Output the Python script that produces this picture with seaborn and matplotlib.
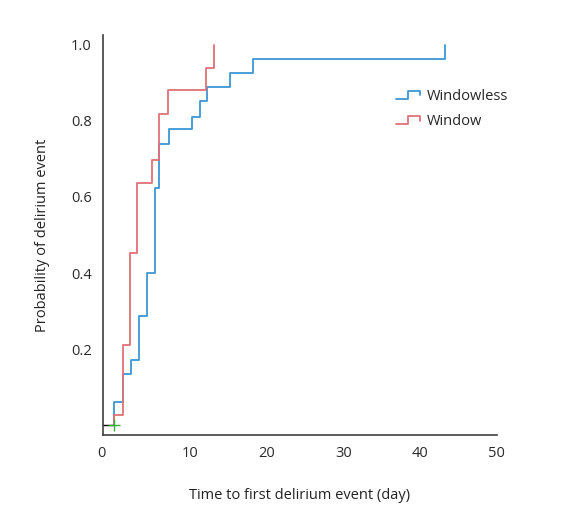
import numpy as np
import pandas as pd
import matplotlib
matplotlib.use("Agg")
import matplotlib.pyplot as plt
import seaborn as sns
from matplotlib.legend_handler import HandlerBase
from matplotlib.lines import Line2D
from matplotlib.transforms import ScaledTranslation

# Datos (curvas de incidencia acumulada)
windowless_days = [0.1, 1.2, 2.25, 3.4, 4.4, 5.4, 6.0, 7.2, 10.2, 11.25, 12.2, 15.2, 18.2, 43.3]
windowless_prob = [0.060, 0.134, 0.171, 0.287, 0.399, 0.623, 0.739, 0.778, 0.811, 0.851,
                   0.889, 0.925, 0.962, 1.0]
window_days = [0.1, 1.2, 2.15, 3.1, 5.0, 6.0, 7.1, 12.1, 13.1]
window_prob = [0.026, 0.212, 0.452, 0.636, 0.697, 0.818, 0.882, 0.940, 1.0]
censor_day = [0.1]
censor_prob = [0.0]

XLIM = (-1.36, 50)
YLIM = (-0.026, 1.026)
BLUE = '#3d95d5'
RED = '#e36f78'
GREY = '#404040'


def curva(dias, probs, grupo):
    # paso inicial desde 0 y luego escalones
    return pd.DataFrame({'day': [dias[0]] + dias, 'prob': [0.0] + probs, 'group': grupo})


df = pd.concat([curva(windowless_days, windowless_prob, 'Windowless'),
                curva(window_days, window_prob, 'Window')], ignore_index=True)

sns.set_style('white')
plt.rcParams['font.family'] = ['Open Sans', 'DejaVu Sans']


class StepHandler(HandlerBase):
    def create_artists(self, legend, orig_handle, xdescent, ydescent, width, height,
                       fontsize, trans):
        x0 = -xdescent
        y0 = -ydescent
        xs = [x0, x0 + 0.5 * width, x0 + 0.5 * width, x0 + width, x0 + width]
        ys = [y0 + 0.1 * height, y0 + 0.1 * height, y0 + 0.85 * height,
              y0 + 0.85 * height, y0 + 0.45 * height]
        ln = Line2D(xs, ys, color=orig_handle.get_color(), lw=1.3, transform=trans)
        return [ln]


fig = plt.figure(figsize=(5.75, 5.12), dpi=100)
ax = fig.add_axes([0.179, 0.150, 0.685, 0.782])

for grupo, color in [('Windowless', BLUE), ('Window', RED)]:
    sub = df[df['group'] == grupo]
    sns.lineplot(data=sub, x='day', y='prob', ax=ax, color=color, lw=1.3,
                 drawstyle='steps-post', estimator=None, sort=False, legend=False)

# línea base y marca de censura en t=0
ax.plot([XLIM[0]] + censor_day, censor_prob * 2, color='black', lw=1.0)
ax.plot(censor_day, censor_prob, marker='+', color='#33b033', ms=8, mew=1.0, ls='none')

ax.set_xlim(*XLIM)
ax.set_ylim(*YLIM)
ax.set_xticks([0, 10, 20, 30, 40, 50])
ax.set_yticks([0, 0.2, 0.4, 0.6, 0.8, 1.0])
ax.set_yticklabels(['', '0.2', '0.4', '0.6', '0.8', '1.0'])
ax.tick_params(direction='in', length=5, width=1.2, colors=GREY, labelsize=10.5,
               labelcolor='#2a2a2a', pad=8)
ax.xaxis.get_major_ticks()[0].tick1line.set_visible(False)
lab0 = ax.get_xticklabels()[0]
lab0.set_transform(lab0.get_transform() + ScaledTranslation(-12 / 100, 0, fig.dpi_scale_trans))

for s in ['top', 'right']:
    ax.spines[s].set_visible(False)
for s in ['left', 'bottom']:
    ax.spines[s].set_color(GREY)
    ax.spines[s].set_linewidth(1.2)

ax.set_xlabel('Time to first delirium event (day)', fontsize=10.5, color='#222222', labelpad=19)
ax.set_ylabel('Probability of delirium event', fontsize=10.5, color='#222222', labelpad=15)

handles = [Line2D([], [], color=BLUE), Line2D([], [], color=RED)]
fig.legend(handles, ['Windowless', 'Window'], handler_map={Line2D: StepHandler()},
           loc='center left', bbox_to_anchor=(0.689, 0.787), frameon=False,
           fontsize=10.5, handlelength=1.6, handletextpad=0.5, labelspacing=0.7,
           borderpad=0, borderaxespad=0)

fig.savefig('out.png', dpi=100)
